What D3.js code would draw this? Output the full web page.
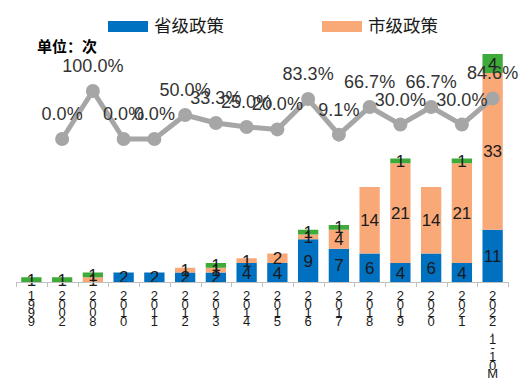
<!DOCTYPE html>
<html><head><meta charset="utf-8">
<script src="https://cdn.jsdelivr.net/npm/d3@7"></script>
<style>body{margin:0;background:#fff}svg{display:block;font-family:"Liberation Sans",Arial,sans-serif}</style>
</head><body><svg id="c" width="523" height="390"></svg>
<script>
const categories = ["1999","2002","2008","2010","2011","2012","2013","2014","2015","2016","2017","2018","2019","2020","2021","2022.1-10M"];
const provincial = [0,0,0,2,2,2,2,4,4,9,7,6,4,6,4,11];
const municipal  = [0,0,1,0,0,1,1,1,2,1,4,14,21,14,21,33];
const other      = [1,1,1,0,0,0,1,0,0,1,1,0,1,0,1,4];
const growthCats = ["2002","2008","2010","2011","2012","2013","2014","2015","2016","2017","2018","2019","2020","2021","2022.1-10M"];
const growth     = [0.0,100.0,0.0,0.0,50.0,33.3,25.0,20.0,83.3,9.1,66.7,30.0,66.7,30.0,84.6];
const seriesNames = ["省级政策","市级政策"];
const colors = {prov:"#0070C0", muni:"#F9A878", other:"#3DAA3A", line:"#A6A6A6"};

const svg = d3.select("#c");
const x = d3.scaleBand().domain(categories).range([16,508]).paddingInner(0.34).paddingOuter(0.17);
const y = d3.scaleLinear().domain([0,48]).range([282,54]);
const yl = d3.scaleLinear().domain([0,100]).range([139,91]);

const rows = categories.map((c,i)=>({cat:c, prov:provincial[i], muni:municipal[i], other:other[i]}));
const stack = d3.stack().keys(["prov","muni","other"])(rows);

stack.forEach(layer=>{
  const g = svg.append("g");
  g.selectAll("rect").data(layer).join("rect")
    .attr("x", d=>x(d.data.cat)).attr("width", x.bandwidth())
    .attr("y", d=>y(d[1])).attr("height", d=>y(d[0])-y(d[1]))
    .attr("fill", colors[layer.key]);
});
stack.forEach(layer=>{
  svg.append("g").selectAll("text").data(layer.filter(d=>d[1]-d[0]>0)).join("text")
    .attr("x", d=>x(d.data.cat)+x.bandwidth()/2)
    .attr("y", d=>(y(d[0])+y(d[1]))/2)
    .attr("dy","0.36em").attr("text-anchor","middle")
    .attr("font-size",17).attr("fill","#1a1a1a")
    .text(d=>d[1]-d[0]);
});

// axis
const ax = svg.append("g").attr("stroke","#BFBFBF").attr("stroke-width",1);
ax.append("line").attr("x1",16).attr("x2",508).attr("y1",282.5).attr("y2",282.5);
const step = x.step();
d3.range(categories.length+1).forEach(i=>{
  const xx = Math.round(16+i*step)+0.5;
  ax.append("line").attr("x1",xx).attr("x2",xx).attr("y1",282).attr("y2",287);
});
// vertical stacked tick labels
categories.forEach(c=>{
  const t = svg.append("text").attr("text-anchor","middle").attr("font-size",13).attr("fill","#1a1a1a");
  c.split("").forEach((ch,j)=>{
    t.append("tspan").attr("x", x(c)+x.bandwidth()/2).attr("y", 300+j*8.7).text(ch);
  });
});

// line
const line = d3.line().x((d,i)=>x(growthCats[i])+x.bandwidth()/2).y(d=>yl(d));
svg.append("path").datum(growth).attr("d",line).attr("fill","none")
  .attr("stroke",colors.line).attr("stroke-width",5).attr("stroke-linejoin","round");
svg.append("g").selectAll("circle").data(growth).join("circle")
  .attr("cx",(d,i)=>x(growthCats[i])+x.bandwidth()/2).attr("cy",d=>yl(d)).attr("r",7)
  .attr("fill",colors.line);
svg.append("g").selectAll("text").data(growth).join("text")
  .attr("x",(d,i)=>x(growthCats[i])+x.bandwidth()/2).attr("y",d=>yl(d)-19)
  .attr("text-anchor","middle").attr("font-size",18).attr("fill","#333")
  .text(d=>d.toFixed(1)+"%");

// legend
const lg = [{n:seriesNames[0],c:colors.prov,x:108},{n:seriesNames[1],c:colors.muni,x:322}];
lg.forEach(l=>{
  svg.append("rect").attr("x",l.x).attr("y",21).attr("width",40).attr("height",11).attr("fill",l.c);
  svg.append("text").attr("x",l.x+46).attr("y",32).attr("font-size",17.5).attr("fill","#1a1a1a")
    .attr("font-family","'Noto Sans CJK SC',sans-serif").text(l.n);
});
svg.append("text").attr("x",37).attr("y",52).attr("font-size",15).attr("font-weight","bold")
  .attr("font-family","'Noto Sans CJK SC',sans-serif").attr("fill","#000").text("单位：次");
</script></body></html>
